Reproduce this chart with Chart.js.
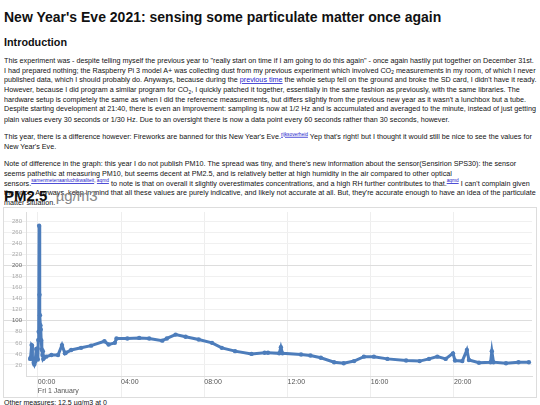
<!DOCTYPE html>
<html>
<head>
<meta charset="utf-8">
<script src="https://cdn.jsdelivr.net/npm/chart.js@4"></script>
<style>
    body { margin: 0; padding: 0; font-family: "Liberation Sans", Arial, sans-serif; color: #111; width: 540px; height: 405px; overflow: hidden; position: relative; }
    /* text is laid out at 1.25x and scaled down, to get past the minimum font size */
    #text { position: absolute; left: 4px; top: 0; width: 667px; transform: scale(0.8); transform-origin: 0 0; }
    h1 { font-size: 17.5px; margin: 12px 0 0 0; }
    h2 { font-size: 13.5px; margin: 12px 0 0 0; }
    p { font-size: 9px; line-height: 12.1px; margin: 10px 0 0 0; }
    a { color: #22c; }
    sup, sub { font-size: 6px; line-height: 0; position: relative; vertical-align: baseline; }
    sup { top: -4px; }
    sub { top: 2px; }
    .title { position: absolute; left: 4px; top: 187px; font-size: 15px; font-weight: bold; }
    .title span { color: #888; font-weight: normal; }
    #box { position: absolute; left: 3px; top: 207px; width: 532px; height: 189px; border: 1px solid #ddd; }
    .after { position: absolute; left: 4px; top: 399px; font-size: 7px; }
</style>
</head>
<body>
<div id="text">
<h1>New Year's Eve 2021: sensing some particulate matter once again</h1>
<h2>Introduction</h2>
<p>This experiment was - despite telling myself the previous year to "really start on time if I am going to do this again" - once again hastily put together on December 31st. I had prepared nothing; the Raspberry Pi 3 model A+ was collecting dust from my previous experiment which involved CO<sub>2</sub> measurements in my room, of which I never published data, which I should probably do. Anyways, because during the <a href="#">previous time</a> the whole setup fell on the ground and broke the SD card, I didn't have it ready. However, because I did program a similar program for CO<sub>2</sub>, I quickly patched it together, essentially in the same fashion as previously, with the same libraries. The hardware setup is completely the same as when I did the reference measurements, but differs slightly from the previous new year as it wasn't a lunchbox but a tube. Despite starting development at 21:40, there is even an improvement: sampling is now at 1/2 Hz and is accumulated and averaged to the minute, instead of just getting plain values every 30 seconds or 1/30 Hz. Due to an oversight there is now a data point every 60 seconds rather than 30 seconds, however.</p>
<p>This year, there is a difference however: Fireworks are banned for this New Year's Eve.<sup><a href="#">rijksoverheid</a></sup> Yep that's right! but I thought it would still be nice to see the values for New Year's Eve.</p>
<p>Note of difference in the graph: this year I do not publish PM10. The spread was tiny, and there's new information about the sensor(Sensirion SPS30): the sensor seems pathethic at measuring PM10, but seems decent at PM2.5, and is relatively better at high humidity in the air compared to other optical sensors.<sup><a href="#">samenmetenaanluchtkwaliteit</a>, <a href="#">aqmd</a></sup> to note is that on overall it slightly overestimates concentrations, and a high RH further contributes to that.<sup><a href="#">aqmd</a></sup> I can't complain given the price. Anyways, keep in mind that all these values are purely indicative, and likely not accurate at all. But, they're accurate enough to have an idea of the particulate matter situation.</p>
</div>
<div class="title">PM2.5 &nbsp;<span>µg/m3</span></div>
<div id="box"><canvas id="pmChart"></canvas></div>
<div class="after">Other measures: 12.5 µg/m3 at 0</div>
<script>
// hours relative to 00:00 on 1 January, PM2.5 in µg/m3
const hours = [-0.37, -0.35, -0.3, -0.28, -0.26, -0.2, -0.17, -0.13, -0.08, -0.06, -0.02, 0.0, 0.02, 0.04, 0.06, 0.08, 0.1, 0.12, 0.14, 0.16, 0.19, 0.22, 0.24, 0.26, 0.3, 0.4, 0.65, 0.97, 1.16, 1.3, 1.34, 1.6, 2.08, 2.56, 3.2, 3.4, 3.7, 3.78, 4.3, 4.87, 5.35, 5.98, 6.2, 6.62, 7.1, 7.73, 8.37, 8.84, 9.48, 10.27, 10.9, 11.06, 11.6, 11.68, 11.76, 12.65, 13.1, 13.6, 14.24, 14.7, 15.2, 15.67, 16.15, 16.8, 17.7, 18.35, 18.8, 19.2, 19.6, 19.95, 20.05, 20.4, 20.62, 20.72, 21.2, 21.76, 21.82, 21.9, 22.5, 23.1, 23.6];
const pm25 = [31, 33, 56, 55, 32, 24, 21, 26, 49, 33, 50, 30, 65, 80, 272, 147, 110, 92, 84, 65, 48, 38, 45, 31, 33, 35, 38, 38, 56, 41, 42, 47, 51, 55, 63, 57, 60, 68, 68, 69, 68, 64, 68, 75, 71, 66, 60, 51, 45, 40, 42, 42, 41, 52, 41, 39, 37, 33, 25, 23, 27, 35, 35, 31, 28, 27, 31, 35, 31, 41, 28, 27, 47, 29, 24, 25, 45, 25, 23, 25, 25];
const yTicks = [20, 40, 60, 80, 100, 120, 140, 160, 180, 200, 220, 240, 260, 280];
const xTicks = [0, 4, 8, 12, 16, 20];

new Chart(document.getElementById('pmChart'), {
    type: 'line',
    data: {
        datasets: [{
            data: hours.map((h, i) => ({ x: h, y: pm25[i] })),
            borderColor: '#4d7dbb',
            backgroundColor: '#4d7dbb',
            borderWidth: 3,
            pointRadius: 2.2,
            pointBorderWidth: 0
        }]
    },
    options: {
        responsive: true,
        maintainAspectRatio: false,
        animation: false,
        layout: { padding: { top: 0, right: 1 } },
        plugins: { legend: { display: false }, tooltip: { enabled: false } },
        scales: {
            x: {
                type: 'linear',
                min: -0.57,
                max: 23.75,
                afterBuildTicks: s => { s.ticks = xTicks.map(v => ({ value: v })); },
                afterFit: s => { s.height = 21; },
                border: { color: '#ddd' },
                grid: { color: '#eee', tickLength: 21 },
                ticks: {
                    padding: -19,
                    align: 'start',
                    color: '#555',
                    font: { size: 7, family: 'Liberation Sans' },
                    callback: v => {
                        const t = String(v).padStart(2, '0') + ':00';
                        return v === 0 ? [t, 'Fri 1 January'] : t;
                    }
                }
            },
            y: {
                min: 0,
                max: 297,
                afterBuildTicks: s => { s.ticks = yTicks.map(v => ({ value: v })); },
                afterFit: s => { s.width = 22; },
                border: { color: '#ddd' },
                grid: {
                    color: c => (c.tick && c.tick.value % 100 === 0) ? '#ddd' : '#f0f0f0',
                    tickLength: 22
                },
                ticks: {
                    padding: -18,
                    color: c => (c.tick && c.tick.value % 100 === 0) ? '#666' : '#aaa',
                    font: { size: 6, family: 'Liberation Sans' }
                }
            }
        }
    }
});
</script>
</body>
</html>
